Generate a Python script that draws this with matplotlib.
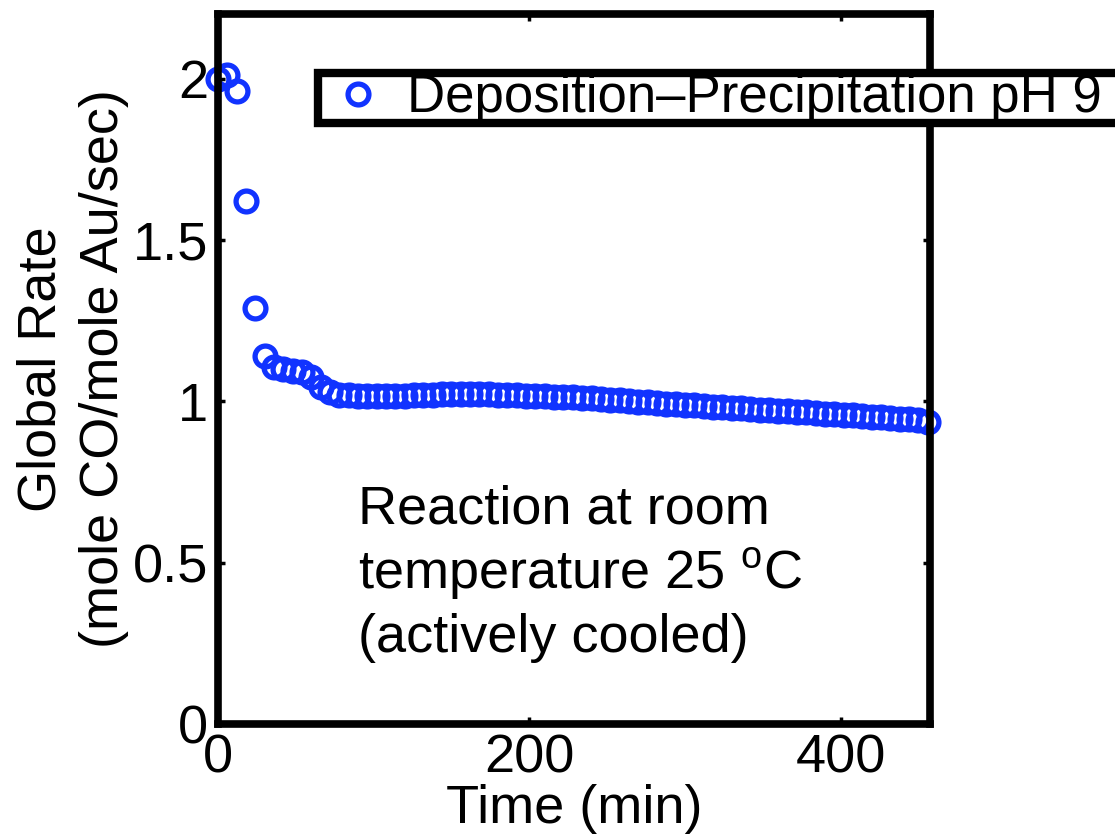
import numpy as np
import matplotlib
matplotlib.use('Agg')
import matplotlib.pyplot as plt

# 字体设置
plt.rcParams['font.family'] = ['Liberation Sans', 'DejaVu Sans']
plt.rcParams['mathtext.fontset'] = 'custom'
plt.rcParams['mathtext.rm'] = 'Liberation Sans'
plt.rcParams['mathtext.it'] = 'Liberation Sans:italic'

# ---- 数据 ----
time_min = [0, 6, 12, 18, 24, 30, 36, 42, 48, 54, 60, 66, 72, 78, 84, 90, 96,
            102, 108, 114, 120, 126, 132, 138, 144, 150, 156, 162, 168, 174,
            180, 186, 192, 198, 204, 210, 216, 222, 228, 234, 240, 246, 252,
            258, 264, 270, 276, 282, 288, 294, 300, 306, 312, 318, 324, 330,
            336, 342, 348, 354, 360, 366, 372, 378, 384, 390, 396, 402, 408,
            414, 420, 426, 432, 438, 444, 450, 456]
rate = [2.00, 2.01, 1.96, 1.62, 1.29, 1.14, 1.105, 1.10, 1.095, 1.09, 1.075,
        1.045, 1.03, 1.02, 1.018, 1.016, 1.015, 1.015, 1.015, 1.016, 1.017,
        1.018, 1.019, 1.020, 1.021, 1.022, 1.022, 1.022, 1.021, 1.021, 1.020,
        1.019, 1.018, 1.017, 1.016, 1.015, 1.014, 1.013, 1.012, 1.011, 1.009,
        1.007, 1.005, 1.003, 1.001, 0.999, 0.997, 0.995, 0.993, 0.991, 0.989,
        0.987, 0.985, 0.983, 0.981, 0.979, 0.978, 0.976, 0.974, 0.973, 0.971,
        0.969, 0.968, 0.966, 0.964, 0.962, 0.960, 0.958, 0.956, 0.954, 0.952,
        0.950, 0.948, 0.946, 0.944, 0.941, 0.937]
series_label = 'Deposition\u2013Precipitation pH 9'
x_ticks = [0, 200, 400]
y_ticks = [0, 0.5, 1, 1.5, 2]
y_tick_labels = ['0', '0.5', '1', '1.5', '2']

FS = 39   # 全图字号

# ---- 画图 ----
fig = plt.figure(figsize=(11.15, 8.39), dpi=100)
ax = fig.add_axes([218 / 1115, 1 - 724 / 839, 712 / 1115, 710 / 839])

ax.plot(time_min, rate, linestyle='none', marker='o', markersize=15,
        markerfacecolor='none', markeredgecolor='#1133ff', markeredgewidth=3.8,
        clip_on=False, zorder=1, label=series_label + '   ')

# ---- 坐标轴设置 ----
ax.set_xlim(0, 457.5)
ax.set_ylim(0, 2.2)
ax.set_xticks(x_ticks)
ax.set_yticks(y_ticks)
ax.set_yticklabels(y_tick_labels)
ax.tick_params(direction='in', length=5, width=2.5, labelsize=FS,
               top=True, right=True, pad=7)
for sp in ax.spines.values():
    sp.set_linewidth(5.5)
    sp.set_zorder(3)

ax.set_xlabel('Time (min)', fontsize=FS, labelpad=0)
ax.set_ylabel('Global Rate\n(mole CO/mole Au/sec)', fontsize=FS, linespacing=1.32)
ax.yaxis.set_label_coords(-0.125, 0.5)

ax.text(0.197, 0.337, 'Reaction at room\ntemperature 25 $^{\\mathrm{o}}$C\n(actively cooled)',
        transform=ax.transAxes, fontsize=FS, ha='left', va='top', linespacing=1.27)

# 图例框延伸到图外
leg = ax.legend(loc='upper left', bbox_to_anchor=(318 / 1115, 1 - 73 / 839),
                bbox_transform=fig.transFigure, fontsize=38, frameon=True,
                fancybox=False, framealpha=1, borderaxespad=0, borderpad=0.0,
                handlelength=1.5, handletextpad=0.18, numpoints=1)
leg.get_frame().set_edgecolor('black')
leg.get_frame().set_linewidth(6)

fig.savefig('out.png', dpi=100)
